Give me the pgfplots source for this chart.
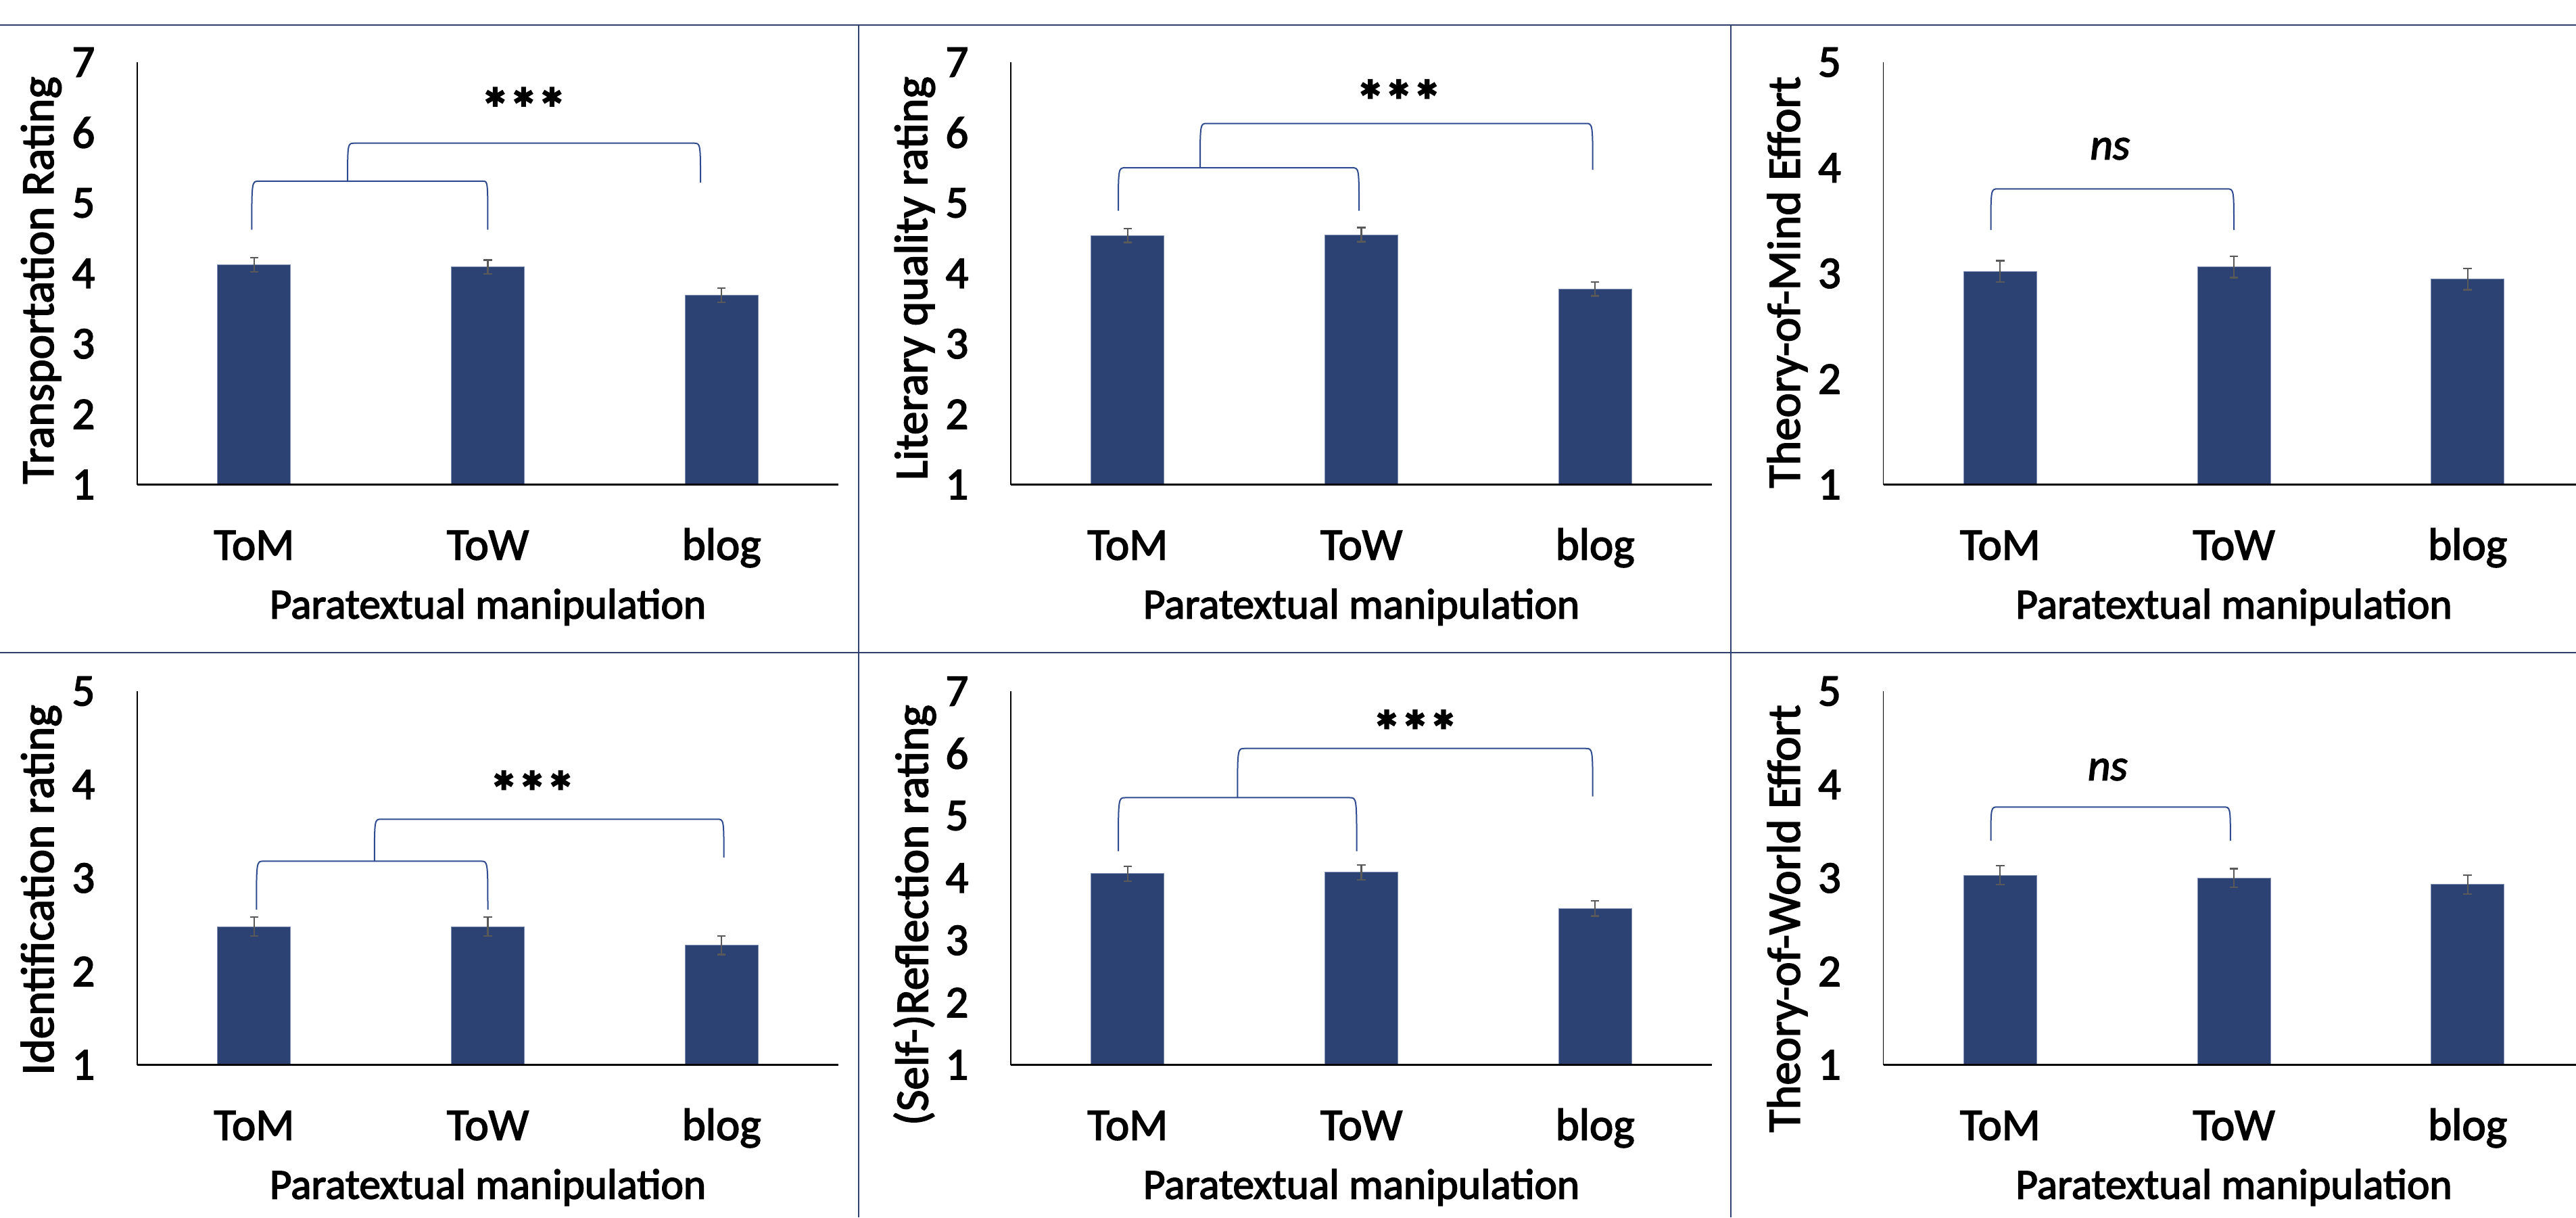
\documentclass[border=0pt]{standalone}
\usepackage{fontspec}
\setmainfont{Carlito}[FakeBold=2.5]
\usepackage{pgfplots}
\pgfplotsset{compat=1.18}
\definecolor{barblue}{HTML}{2C4273}
\definecolor{baredge}{HTML}{7F8FB5}
\definecolor{tableline}{HTML}{2F3F6F}
\definecolor{brkcol}{HTML}{2F4B8F}
\definecolor{errgray}{HTML}{595959}
\newcommand{\brk}[7]{\draw[brkcol, line width=0.02cm] (axis cs:#1,#5) .. controls (axis cs:#1,#7) and (axis cs:#1,#7) .. (axis cs:#2,#7) -- (axis cs:#3,#7) .. controls (axis cs:#4,#7) and (axis cs:#4,#7) .. (axis cs:#4,#6);}
\tikzset{
  stars/.style={font=\fontsize{24}{28}\selectfont\bfseries, anchor=base},
  nsl/.style={font=\fontsize{18.5}{22}\selectfont\itshape},
}
\pgfplotsset{
  panel/.style={
    scale only axis, width=10.37cm, anchor=south west,
    axis lines*=left, axis on top,
    x axis line style={black, line width=0.025cm},
    y axis line style={black, line width=0.018cm},
    xmin=-0.5, xmax=2.5, ymin=1,
    xtick={0,1,2}, xticklabels={ToM,ToW,blog},
    ytick distance=1,
    major tick length=0pt, tick style={draw=none},
    /pgf/number format/assume math mode=true,
    ticklabel style={font=\fontsize{19}{22}\selectfont},
    yticklabel style={anchor=east, inner sep=0pt, xshift=-0.62cm},
    xticklabel style={anchor=base, inner sep=0pt, yshift=-1.11cm},
    every axis x label/.style={at={(axis description cs:0.5,0)}, anchor=base, yshift=-1.98cm, font=\fontsize{18}{21}\selectfont},
    every axis y label/.style={at={(axis description cs:-0.137,0.986)}, rotate=90, anchor=east, font=\fontsize{19.6}{23}\selectfont},
    xlabel={Paratextual manipulation},
    ybar, bar width=1.08cm,
  },
  barplot/.style={fill=barblue, draw=baredge, line width=0.01cm,
    error bars/.cd, y dir=both, y explicit,
    error bar style={color=errgray, line width=0.022cm},
    error mark options={rotate=90, mark size=0.063cm, line width=0.022cm, color=errgray}},
  top/.style={height=6.245cm},
  bot/.style={height=5.525cm},
}
\begin{document}
\begin{tikzpicture}
\useasboundingbox (0,0) rectangle (38.1,18);
% table borders
\draw[tableline, line width=0.025cm] (0,17.63) -- (38.1,17.63);
\draw[tableline, line width=0.025cm] (0,8.35) -- (38.1,8.35);
\draw[tableline, line width=0.025cm] (12.70,17.63) -- (12.70,0);
\draw[tableline, line width=0.025cm] (25.60,17.63) -- (25.60,0);

% Panel 1
\begin{axis}[panel, top, at={(2.03cm,10.835cm)}, ymax=7, ylabel={Transportation Rating}]
\addplot[barplot] coordinates {(0,4.12) +- (0,0.10) (1,4.09) +- (0,0.10) (2,3.69) +- (0,0.10)};
\brk{-0.01}{0.02}{0.98}{1.0}{4.62}{4.62}{5.31}
\brk{0.40}{0.43}{1.88}{1.91}{5.31}{5.29}{5.85}
\node[stars] at (axis cs:1.153,6.06) {***};
\end{axis}

% Panel 2
\begin{axis}[panel, top, at={(14.95cm,10.835cm)}, ymax=7, ylabel={Literary quality rating}]
\addplot[barplot] coordinates {(0,4.54) +- (0,0.10) (1,4.55) +- (0,0.10) (2,3.78) +- (0,0.10)};
\brk{-0.04}{-0.01}{0.96}{0.99}{4.89}{4.89}{5.50}
\brk{0.31}{0.34}{1.96}{1.99}{5.50}{5.47}{6.13}
\node[stars] at (axis cs:1.16,6.17) {***};
\end{axis}

% Panel 3
\begin{axis}[panel, top, at={(27.855cm,10.835cm)}, ymax=5, ylabel={Theory-of-Mind Effort}]
\addplot[barplot] coordinates {(0,3.02) +- (0,0.10) (1,3.06) +- (0,0.10) (2,2.945) +- (0,0.10)};
\brk{-0.04}{-0.01}{0.97}{1.0}{3.41}{3.41}{3.80}
\node[nsl] at (axis cs:0.47,4.18) {ns};
\end{axis}

% Panel 4
\begin{axis}[panel, bot, at={(2.03cm,2.255cm)}, ymax=5, ylabel={Identification rating}]
\addplot[barplot] coordinates {(0,2.48) +- (0,0.10) (1,2.48) +- (0,0.10) (2,2.28) +- (0,0.10)};
\brk{0.01}{0.04}{0.97}{1.0}{2.66}{2.66}{3.18}
\brk{0.515}{0.545}{1.98}{2.01}{3.18}{3.22}{3.63}
\node[stars] at (axis cs:1.19,3.71) {***};
\end{axis}

% Panel 5
\begin{axis}[panel, bot, at={(14.95cm,2.255cm)}, ymax=7, ylabel={(Self-)Reflection rating}]
\addplot[barplot] coordinates {(0,4.07) +- (0,0.12) (1,4.09) +- (0,0.12) (2,3.51) +- (0,0.12)};
\brk{-0.04}{-0.01}{0.95}{0.98}{4.43}{4.43}{5.29}
\brk{0.47}{0.50}{1.96}{1.99}{5.29}{5.31}{6.08}
\node[stars] at (axis cs:1.23,6.04) {***};
\end{axis}

% Panel 6
\begin{axis}[panel, bot, at={(27.855cm,2.255cm)}, ymax=5, ylabel={Theory-of-World Effort}]
\addplot[barplot] coordinates {(0,3.03) +- (0,0.10) (1,3.00) +- (0,0.10) (2,2.93) +- (0,0.10)};
\brk{-0.04}{-0.01}{0.955}{0.985}{3.40}{3.40}{3.76}
\node[nsl] at (axis cs:0.46,4.16) {ns};
\end{axis}
\end{tikzpicture}
\end{document}
